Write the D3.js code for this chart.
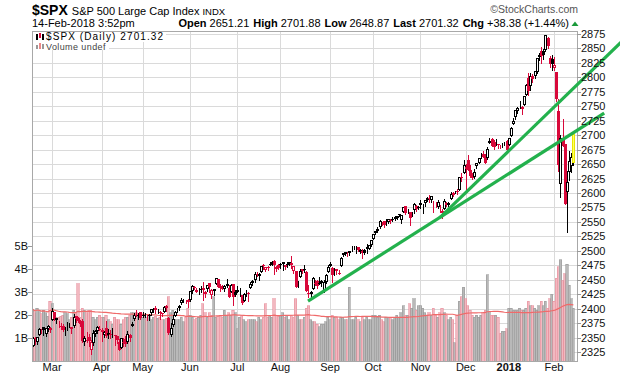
<!DOCTYPE html>
<html lang="en">
<head>
  <meta charset="UTF-8">
  <title>$SPX daily</title>
  <style>
    * {
      padding: 0;
      margin: 0;
    }
    body {
      background: #fff;
    }
    text {
      font-family: "Liberation Sans", Arial, sans-serif;
    }
  </style>
</head>
<body>
  <script src="https://d3js.org/d3.v7.min.js"></script>
  <script>
    // daily bars, 15-Feb-2017 .. 14-Feb-2018 (one line per month)
    const prevClose = 2337.58;

    const opens = [
      2335.58, 2349.64, 2343.01, 2354.91, 2361.11, 2367.50, 2355.73, 2365.23, 2366.08,
      2380.13, 2394.75, 2380.92, 2375.23, 2370.74, 2369.81, 2363.49, 2372.52, 2371.56, 2368.55, 2370.34, 2387.71, 2383.71, 2378.24, 2379.32, 2343.00, 2345.97, 2350.42, 2329.11, 2339.79, 2356.54, 2361.31, 2364.82,
      2362.34, 2354.76, 2366.59, 2353.79, 2356.59, 2357.16, 2353.92, 2352.15, 2341.98, 2332.62, 2342.53, 2346.79, 2342.69, 2354.74, 2370.33, 2381.51, 2388.98, 2389.70, 2393.68,
      2388.50, 2391.05, 2386.50, 2389.79, 2392.37, 2399.94, 2401.58, 2396.79, 2394.84, 2392.44, 2393.98, 2404.55, 2382.95, 2354.69, 2371.37, 2387.21, 2397.04, 2401.41, 2409.54, 2414.50, 2411.67, 2415.63,
      2415.65, 2431.28, 2437.83, 2431.92, 2432.03, 2434.27, 2436.39, 2425.88, 2434.15, 2443.75, 2424.14, 2431.24, 2442.55, 2450.66, 2439.31, 2437.40, 2434.65, 2443.32, 2436.34, 2428.70, 2442.38, 2429.20,
      2431.39, 2430.78, 2423.44, 2413.52, 2424.51, 2427.35, 2435.75, 2444.99, 2449.16, 2459.50, 2455.88, 2463.85, 2475.56, 2467.40, 2472.04, 2477.88, 2479.97, 2482.76, 2469.12, 2475.94,
      2477.10, 2480.38, 2476.03, 2476.88, 2477.14, 2478.35, 2465.35, 2465.38, 2441.04, 2454.96, 2468.66, 2468.63, 2462.95, 2427.64, 2425.50, 2433.75, 2444.88, 2447.91, 2444.72, 2447.35, 2431.94, 2446.06, 2462.65,
      2474.42, 2470.35, 2463.83, 2468.06, 2462.25, 2474.52, 2491.94, 2493.89, 2494.56, 2495.67, 2502.51, 2506.29, 2506.84, 2507.16, 2497.26, 2499.39, 2501.04, 2503.30, 2503.41, 2509.96,
      2521.20, 2530.34, 2533.48, 2540.86, 2547.44, 2551.39, 2549.99, 2550.62, 2552.88, 2555.66, 2555.57, 2557.17, 2562.87, 2553.39, 2567.56, 2578.08, 2568.66, 2566.52, 2560.08, 2570.26, 2577.75, 2575.99,
      2583.21, 2579.46, 2581.93, 2587.47, 2592.11, 2588.71, 2584.00, 2580.18, 2576.53, 2577.75, 2569.45, 2572.95, 2582.94, 2579.49, 2589.17, 2600.31, 2600.42, 2602.66, 2605.94, 2627.82, 2633.93,
      2645.10, 2657.19, 2639.78, 2626.24, 2628.38, 2646.21, 2652.19, 2661.73, 2667.59, 2665.87, 2660.63, 2685.92, 2692.71, 2688.18, 2683.02, 2684.22, 2679.09, 2682.10, 2686.10, 2689.15,
      2683.73, 2697.85, 2719.31, 2731.33, 2742.67, 2751.15, 2745.55, 2752.97, 2770.18, 2798.96, 2784.99, 2802.40, 2802.60, 2809.16, 2835.05, 2845.42, 2846.24, 2847.48, 2867.23, 2832.74, 2832.41,
      2816.45, 2808.92, 2741.06, 2614.78, 2690.95, 2685.01, 2601.78, 2636.75, 2646.27, 2651.21
    ];

    const highs = [
      2351.30, 2351.31, 2351.16, 2366.71, 2365.13, 2368.26, 2367.34, 2371.54, 2367.79,
      2400.98, 2394.75, 2383.89, 2378.80, 2375.12, 2373.09, 2369.08, 2376.86, 2374.42, 2368.55, 2390.01, 2388.10, 2385.71, 2379.55, 2381.93, 2351.81, 2358.92, 2356.22, 2344.90, 2363.78, 2363.36, 2370.42, 2370.35,
      2365.87, 2360.53, 2378.36, 2364.16, 2363.76, 2366.37, 2355.22, 2352.72, 2348.26, 2349.14, 2348.35, 2352.63, 2361.37, 2356.18, 2376.98, 2392.48, 2398.16, 2392.10, 2393.68,
      2394.49, 2392.93, 2389.82, 2391.43, 2399.29, 2401.36, 2403.87, 2399.74, 2395.72, 2392.44, 2404.05, 2405.77, 2384.87, 2375.74, 2389.06, 2395.46, 2400.85, 2405.58, 2418.71, 2416.68, 2415.26, 2415.99,
      2430.06, 2440.23, 2439.55, 2436.21, 2435.28, 2439.27, 2446.20, 2430.38, 2441.49, 2443.75, 2433.95, 2433.15, 2453.82, 2450.66, 2442.23, 2441.62, 2441.40, 2450.42, 2440.15, 2442.97, 2442.73, 2432.71,
      2439.17, 2434.90, 2424.28, 2426.92, 2432.00, 2429.30, 2445.76, 2449.32, 2463.54, 2462.82, 2460.92, 2473.83, 2477.62, 2472.54, 2473.10, 2481.24, 2481.69, 2484.04, 2473.53, 2477.96,
      2478.51, 2480.38, 2476.03, 2480.00, 2480.95, 2490.87, 2474.41, 2465.38, 2448.09, 2468.22, 2468.90, 2474.93, 2465.02, 2440.27, 2430.58, 2454.77, 2448.91, 2450.39, 2453.96, 2449.12, 2449.19, 2460.31, 2475.01,
      2480.38, 2471.97, 2469.64, 2468.62, 2467.11, 2488.95, 2496.77, 2498.37, 2498.43, 2500.23, 2508.32, 2507.84, 2508.85, 2507.16, 2503.47, 2502.54, 2503.51, 2511.75, 2510.81, 2519.44,
      2529.23, 2535.13, 2540.53, 2552.51, 2549.41, 2551.82, 2555.23, 2555.24, 2555.33, 2557.65, 2559.47, 2559.71, 2564.11, 2562.36, 2575.44, 2578.29, 2572.18, 2567.40, 2567.07, 2582.98, 2580.03, 2578.29,
      2588.40, 2581.11, 2588.42, 2593.38, 2597.02, 2595.47, 2586.50, 2583.81, 2587.66, 2579.66, 2572.84, 2590.09, 2583.96, 2584.64, 2601.19, 2600.94, 2604.21, 2606.41, 2627.69, 2634.89, 2657.74,
      2650.62, 2665.19, 2648.72, 2634.41, 2640.99, 2651.65, 2660.33, 2669.72, 2671.88, 2668.09, 2679.63, 2694.97, 2694.44, 2691.01, 2692.64, 2685.35, 2682.74, 2685.64, 2687.66, 2692.12,
      2695.89, 2714.37, 2729.29, 2743.45, 2748.51, 2759.14, 2750.80, 2767.56, 2787.85, 2807.54, 2807.04, 2805.83, 2810.33, 2833.03, 2842.24, 2852.97, 2848.56, 2872.87, 2870.62, 2837.75, 2839.26,
      2835.96, 2808.92, 2763.39, 2701.04, 2727.67, 2685.27, 2638.67, 2672.61, 2668.84, 2701.88
    ];

    const lows = [
      2334.81, 2338.87, 2339.58, 2354.91, 2358.34, 2355.09, 2352.87, 2361.87, 2358.96,
      2380.13, 2380.17, 2375.39, 2367.98, 2365.51, 2361.01, 2354.54, 2363.04, 2368.52, 2358.18, 2368.94, 2377.18, 2377.64, 2369.66, 2341.90, 2336.45, 2342.13, 2335.74, 2322.25, 2337.63, 2352.94, 2358.58, 2362.60,
      2344.73, 2350.72, 2350.52, 2348.90, 2349.76, 2351.50, 2337.25, 2341.18, 2328.95, 2332.51, 2334.54, 2335.05, 2340.91, 2344.51, 2369.19, 2381.15, 2386.78, 2382.68, 2382.36,
      2384.83, 2385.82, 2379.75, 2380.35, 2389.38, 2393.92, 2392.44, 2392.79, 2381.74, 2387.19, 2393.94, 2396.05, 2356.21, 2352.72, 2370.43, 2386.92, 2393.88, 2397.99, 2408.01, 2412.20, 2409.43, 2403.59,
      2413.54, 2427.71, 2434.32, 2428.12, 2424.75, 2427.94, 2415.70, 2419.97, 2431.28, 2428.34, 2418.53, 2422.88, 2441.79, 2436.60, 2430.74, 2433.27, 2431.11, 2437.03, 2419.38, 2428.02, 2405.70, 2421.65,
      2428.69, 2422.05, 2407.70, 2413.52, 2422.27, 2412.79, 2435.75, 2441.69, 2446.69, 2457.16, 2450.34, 2463.85, 2468.43, 2465.06, 2466.32, 2474.91, 2474.94, 2459.93, 2464.66, 2468.53,
      2471.14, 2466.48, 2468.85, 2472.08, 2475.88, 2470.32, 2462.08, 2437.75, 2437.85, 2454.96, 2461.61, 2463.86, 2430.01, 2420.69, 2417.35, 2433.67, 2441.42, 2436.19, 2442.22, 2439.03, 2428.20, 2443.77, 2462.65,
      2473.85, 2446.55, 2458.20, 2460.29, 2459.40, 2474.52, 2490.37, 2492.14, 2491.35, 2493.16, 2499.92, 2503.19, 2496.67, 2499.00, 2496.54, 2488.03, 2495.12, 2495.91, 2502.93, 2507.99,
      2520.40, 2528.85, 2531.80, 2540.02, 2543.79, 2541.60, 2544.86, 2547.95, 2548.31, 2552.09, 2553.86, 2554.69, 2559.67, 2547.92, 2567.56, 2564.33, 2565.58, 2544.00, 2559.80, 2565.94, 2568.25, 2572.15,
      2574.92, 2566.17, 2576.77, 2585.66, 2584.35, 2585.02, 2566.33, 2575.57, 2574.48, 2566.56, 2557.45, 2572.95, 2577.62, 2578.24, 2589.17, 2595.23, 2600.42, 2598.87, 2605.44, 2620.32, 2633.93,
      2605.52, 2639.03, 2627.73, 2624.75, 2626.53, 2644.10, 2651.47, 2659.78, 2662.85, 2652.01, 2659.14, 2685.92, 2680.74, 2676.11, 2682.40, 2678.13, 2677.96, 2678.91, 2682.69, 2673.61,
      2682.36, 2697.77, 2719.07, 2727.92, 2737.60, 2747.86, 2736.06, 2752.78, 2769.64, 2768.64, 2778.38, 2792.56, 2798.08, 2808.12, 2830.59, 2824.81, 2830.94, 2846.18, 2851.48, 2818.27, 2813.04,
      2812.70, 2759.97, 2638.17, 2593.07, 2681.33, 2580.56, 2532.69, 2622.45, 2637.08, 2648.87
    ];

    const closes = [
      2349.25, 2347.22, 2351.16, 2365.38, 2362.82, 2363.81, 2367.34, 2369.75, 2363.64,
      2395.96, 2381.92, 2383.12, 2375.31, 2368.39, 2362.98, 2364.87, 2372.60, 2373.47, 2365.45, 2385.26, 2381.38, 2378.25, 2373.47, 2344.02, 2348.45, 2345.96, 2343.98, 2341.59, 2358.57, 2361.13, 2368.06, 2362.72,
      2358.84, 2360.16, 2352.95, 2357.49, 2355.54, 2357.16, 2353.78, 2344.93, 2328.95, 2349.01, 2342.19, 2338.17, 2355.84, 2348.69, 2374.15, 2388.61, 2387.45, 2388.77, 2384.20,
      2388.33, 2391.17, 2388.13, 2389.52, 2399.29, 2399.38, 2396.92, 2399.63, 2394.44, 2390.90, 2402.32, 2400.67, 2357.03, 2365.72, 2381.73, 2394.02, 2398.42, 2404.39, 2415.07, 2415.82, 2412.91, 2411.80,
      2430.06, 2439.07, 2436.10, 2429.33, 2433.14, 2433.79, 2431.77, 2429.39, 2440.35, 2437.92, 2432.46, 2433.15, 2453.46, 2437.03, 2435.61, 2434.50, 2438.30, 2439.07, 2419.38, 2440.69, 2419.70, 2423.41,
      2429.01, 2432.54, 2409.75, 2425.18, 2427.43, 2425.53, 2443.25, 2447.83, 2459.27, 2459.14, 2460.61, 2473.83, 2473.45, 2472.54, 2469.91, 2477.13, 2477.83, 2475.42, 2472.10, 2470.30,
      2476.35, 2477.57, 2472.16, 2476.83, 2480.91, 2474.92, 2474.02, 2438.21, 2441.32, 2465.84, 2464.61, 2468.11, 2430.01, 2425.55, 2428.37, 2452.51, 2444.04, 2438.97, 2443.05, 2444.24, 2446.30, 2457.59, 2471.65,
      2476.55, 2457.85, 2465.54, 2465.10, 2461.43, 2488.11, 2496.48, 2498.37, 2495.62, 2500.23, 2503.87, 2506.65, 2508.24, 2500.60, 2502.22, 2496.66, 2496.84, 2507.04, 2510.06, 2519.36,
      2529.12, 2534.58, 2537.74, 2552.07, 2549.33, 2544.73, 2550.64, 2555.24, 2550.93, 2553.17, 2557.64, 2559.36, 2561.26, 2562.10, 2575.21, 2564.98, 2569.13, 2557.15, 2560.40, 2581.07, 2572.83, 2575.26,
      2579.36, 2579.85, 2587.84, 2591.13, 2590.64, 2594.38, 2584.62, 2582.30, 2584.84, 2578.87, 2564.62, 2585.64, 2578.85, 2582.14, 2599.03, 2597.08, 2602.42, 2601.42, 2627.04, 2626.07, 2647.58,
      2642.22, 2639.44, 2629.57, 2629.27, 2636.98, 2651.50, 2659.99, 2664.11, 2662.85, 2652.01, 2675.81, 2690.16, 2681.47, 2679.25, 2684.57, 2683.34, 2680.50, 2682.62, 2687.54, 2673.61,
      2695.81, 2713.06, 2723.99, 2743.15, 2747.71, 2751.29, 2748.23, 2767.56, 2786.24, 2776.42, 2802.56, 2798.03, 2810.30, 2832.97, 2839.13, 2837.54, 2839.25, 2872.87, 2853.53, 2822.43, 2823.81,
      2821.98, 2762.13, 2648.94, 2695.14, 2681.66, 2581.00, 2619.55, 2656.00, 2662.94, 2701.32
    ];

    // volume, billions
    const volumes = [
      2.25, 2.10, 2.30, 2.15, 2.05, 2.20, 2.10, 1.95, 2.60,
      2.50, 2.10, 1.90, 1.90, 1.95, 2.00, 2.10, 2.05, 1.80, 1.90, 2.20, 2.10, 3.35, 1.90, 2.30, 2.20, 2.10, 2.20, 2.20, 1.90, 1.80, 1.90, 2.00,
      1.90, 1.90, 2.00, 1.80, 1.70, 1.60, 1.90, 1.80, 1.80, 1.60, 1.80, 1.90, 1.90, 2.00, 2.10, 2.10, 2.10, 1.95, 2.00,
      1.90, 2.00, 1.90, 2.00, 1.80, 1.90, 1.95, 1.85, 1.90, 1.80, 1.80, 1.85, 2.80, 2.10, 2.20, 1.80, 1.80, 1.80, 1.90, 1.70, 1.90, 2.30,
      2.00, 1.90, 1.80, 1.85, 1.90, 2.00, 2.50, 2.10, 1.90, 2.10, 2.00, 2.80, 1.90, 1.95, 2.00, 1.90, 2.20, 2.00, 2.10, 2.00, 2.20, 2.10,
      1.40, 1.90, 2.00, 1.80, 1.70, 1.80, 1.80, 1.80, 1.80, 1.70, 1.90, 1.80, 1.90, 2.50, 1.90, 2.00, 1.90, 2.70, 2.00, 1.95,
      2.00, 2.10, 1.90, 2.00, 1.80, 2.00, 1.90, 2.70, 2.00, 1.80, 1.80, 1.90, 2.30, 2.40, 1.80, 1.70, 1.70, 1.60, 1.50, 1.60, 1.60, 1.70, 1.90,
      1.80, 2.00, 1.90, 1.90, 1.80, 1.90, 1.90, 1.80, 1.80, 3.20, 1.80, 1.80, 1.90, 1.80, 1.70, 1.90, 1.80, 1.90, 1.80, 1.80,
      2.00, 2.00, 1.90, 2.00, 1.80, 1.70, 1.90, 1.90, 1.90, 1.80, 1.90, 2.00, 1.90, 2.10, 2.40, 2.00, 2.00, 2.50, 2.30, 2.70, 2.20, 2.40,
      2.40, 2.30, 2.10, 2.00, 2.10, 2.00, 2.30, 2.00, 1.90, 2.10, 2.30, 2.10, 2.00, 1.80, 1.90, 1.80, 0.80, 2.00, 2.60, 2.80, 3.20,
      2.70, 2.40, 2.20, 2.00, 1.90, 2.00, 1.90, 2.00, 2.10, 2.20, 3.75, 2.10, 2.00, 2.00, 2.00, 1.90, 1.20, 1.30, 1.30, 1.40,
      2.30, 2.30, 2.20, 2.20, 2.20, 2.30, 2.20, 2.20, 2.30, 2.60, 2.40, 2.40, 2.30, 2.20, 2.40, 2.60, 2.40, 2.60, 2.30, 2.70, 2.90,
      2.60, 3.60, 4.10, 4.40, 3.50, 3.80, 4.20, 3.30, 2.70, 2.30
    ];

    // first trading day of each month (bar index) and its label
    const monthLabels = ['Mar', 'Apr', 'May', 'Jun', 'Jul', 'Aug', 'Sep', 'Oct', 'Nov', 'Dec', '2018', 'Feb'];
    const monthStarts = [9, 32, 51, 73, 95, 115, 138, 158, 180, 201, 221, 242];

    const priceTicks = d3.range(2325, 2876, 25);
    const volumeTicks = [1, 2, 3, 4, 5];

    // trendlines drawn on the chart: [bar index, price]
    const lowerTrend = [[127.8, 2413], [265.3, 2738]];
    const upperTrend = [[188.9, 2557], [273.7, 2863]];

    const maPeriod = 50;

    const width = 620;
    const height = 376;
    const plot = { left: 32, right: 577, top: 31, bottom: 361 };
    const red = '#d8083a';

    const svg = d3.select('body')
      .append('svg')
      .attr('width', width)
      .attr('height', height)
      .style('display', 'block');

    const x = d3.scaleLinear().domain([0, 251]).range([32.7, 573.4]);
    const y = d3.scaleLinear().domain([2325, 2875]).range([352, 34]);
    const yVol = d3.scaleLinear().domain([0, 5]).range([361, 246]);
    const step = x(1) - x(0);

    const bars = closes.map((c, i) => ({
      i,
      o: opens[i],
      h: highs[i],
      l: lows[i],
      c,
      v: volumes[i],
      up: c >= (i === 0 ? prevClose : closes[i - 1])
    }));

    svg.append('defs').append('clipPath').attr('id', 'clip')
      .append('rect')
      .attr('x', plot.left).attr('y', plot.top)
      .attr('width', plot.right - plot.left).attr('height', plot.bottom - plot.top);

    // grid
    const grid = svg.append('g').attr('stroke', '#dadada').attr('shape-rendering', 'crispEdges');
    grid.selectAll('.hg').data(priceTicks).join('line')
      .attr('x1', plot.left).attr('x2', plot.right)
      .attr('y1', d => Math.round(y(d)) + 0.5).attr('y2', d => Math.round(y(d)) + 0.5);
    grid.selectAll('.vg').data(monthStarts).join('line')
      .attr('x1', d => Math.round(x(d)) + 0.5).attr('x2', d => Math.round(x(d)) + 0.5)
      .attr('y1', plot.top).attr('y2', plot.bottom);

    const body = svg.append('g').attr('clip-path', 'url(#clip)');

    // volume bars
    body.append('g').attr('shape-rendering', 'crispEdges')
      .selectAll('rect').data(bars).join('rect')
      .attr('x', d => x(d.i) - step / 2)
      .attr('width', step)
      .attr('y', d => yVol(d.v))
      .attr('height', d => yVol(0) - yVol(d.v))
      .attr('fill', d => d.up ? '#b9b9b9' : '#f2b8c0')
      .attr('stroke', d => d.up ? '#9a9a9a' : '#e8909c')
      .attr('stroke-width', 0.6);

    // volume moving average
    const ma = bars.map(d => {
      const win = volumes.slice(Math.max(0, d.i - maPeriod + 1), d.i + 1);
      return { i: d.i, v: d3.mean(win) };
    });
    body.append('path')
      .datum(ma)
      .attr('fill', 'none')
      .attr('stroke', '#f06a6a')
      .attr('stroke-width', 1.2)
      .attr('d', d3.line().x(d => x(d.i)).y(d => yVol(d.v)));

    // candles
    const candles = body.append('g').attr('shape-rendering', 'crispEdges');
    bars.forEach((d, k) => {
      const cx = Math.round(x(d.i));
      const col = d.up ? '#000' : red;
      const last = k === bars.length - 1;
      candles.append('line')
        .attr('x1', cx + 0.5).attr('x2', cx + 0.5)
        .attr('y1', Math.round(y(d.h))).attr('y2', Math.round(y(d.l)) + 1)
        .attr('stroke', col);
      const top = Math.round(y(Math.max(d.o, d.c)));
      const bot = Math.round(y(Math.min(d.o, d.c)));
      if (d.c < d.o) {
        candles.append('rect')
          .attr('x', cx - 1).attr('width', 3)
          .attr('y', top).attr('height', Math.max(1, bot - top))
          .attr('fill', col);
      } else {
        candles.append('rect')
          .attr('x', cx - 0.5).attr('width', 2)
          .attr('y', top + 0.5).attr('height', Math.max(0, bot - top - 1))
          .attr('fill', last ? '#ffff66' : '#fff')
          .attr('stroke', last ? '#e8e800' : col);
      }
    });

    // border
    svg.append('rect')
      .attr('x', plot.left + 0.5).attr('y', plot.top + 0.5)
      .attr('width', plot.right - plot.left).attr('height', plot.bottom - plot.top)
      .attr('fill', 'none').attr('stroke', '#a8a8a8')
      .attr('shape-rendering', 'crispEdges');

    // trendlines
    const tl = d3.line().x(d => x(d[0])).y(d => y(d[1]));
    [lowerTrend, upperTrend].forEach(t => {
      svg.append('path')
        .attr('d', tl(t))
        .attr('fill', 'none')
        .attr('stroke', '#23b14d')
        .attr('stroke-width', 3.2);
    });

    // right price axis
    const yAxis = svg.append('g');
    yAxis.selectAll('line').data(priceTicks).join('line')
      .attr('x1', plot.right).attr('x2', plot.right + 4)
      .attr('y1', d => Math.round(y(d)) + 0.5).attr('y2', d => Math.round(y(d)) + 0.5)
      .attr('stroke', '#999').attr('shape-rendering', 'crispEdges');
    yAxis.selectAll('text').data(priceTicks).join('text')
      .attr('x', plot.right + 4)
      .attr('y', d => y(d) + 4)
      .attr('font-size', 11)
      .attr('fill', '#111')
      .text(d => d);

    // left volume axis
    const vAxis = svg.append('g');
    vAxis.selectAll('line').data(volumeTicks).join('line')
      .attr('x1', plot.left - 4).attr('x2', plot.left)
      .attr('y1', d => Math.round(yVol(d)) + 0.5).attr('y2', d => Math.round(yVol(d)) + 0.5)
      .attr('stroke', '#999').attr('shape-rendering', 'crispEdges');
    vAxis.selectAll('text').data(volumeTicks).join('text')
      .attr('x', plot.left - 4)
      .attr('y', d => yVol(d) + 4)
      .attr('text-anchor', 'end')
      .attr('font-size', 11)
      .attr('fill', '#111')
      .text(d => d + 'B');

    // month labels
    svg.append('g').selectAll('text').data(monthStarts).join('text')
      .attr('x', d => x(d))
      .attr('y', 371)
      .attr('text-anchor', 'middle')
      .attr('font-size', 11)
      .attr('font-weight', (d, i) => monthLabels[i] === '2018' ? 'bold' : 'normal')
      .attr('fill', '#111')
      .text((d, i) => monthLabels[i]);

    // legend inside the plot
    svg.append('rect').attr('x', 33).attr('y', 32).attr('width', 133).attr('height', 10).attr('fill', '#fff');
    svg.append('rect').attr('x', 33).attr('y', 42).attr('width', 76).attr('height', 8).attr('fill', '#fff');
    const icon = svg.append('g').attr('shape-rendering', 'crispEdges');
    icon.append('rect').attr('x', 36).attr('y', 34).attr('width', 2).attr('height', 6).attr('fill', '#000');
    icon.append('rect').attr('x', 39).attr('y', 33).attr('width', 2).attr('height', 5).attr('fill', red);
    icon.append('rect').attr('x', 42).attr('y', 34).attr('width', 2).attr('height', 6).attr('fill', '#000');
    svg.append('text')
      .attr('x', 46).attr('y', 39.5)
      .attr('font-size', 10)
      .attr('letter-spacing', 1.1)
      .attr('fill', '#000')
      .text('$SPX (Daily) 2701.32');
    icon.append('rect').attr('x', 36).attr('y', 45).attr('width', 2).attr('height', 4).attr('fill', '#999');
    icon.append('rect').attr('x', 39).attr('y', 43).attr('width', 2).attr('height', 6).attr('fill', '#e88');
    icon.append('rect').attr('x', 42).attr('y', 44).attr('width', 2).attr('height', 5).attr('fill', '#999');
    svg.append('text')
      .attr('x', 46).attr('y', 49.8)
      .attr('font-size', 9)
      .attr('letter-spacing', 0.4)
      .attr('fill', '#444')
      .text('Volume undef');

    // header
    const h1 = svg.append('text').attr('x', 32).attr('y', 15).attr('fill', '#000');
    h1.append('tspan').attr('font-size', 14).attr('font-weight', 'bold').text('$SPX');
    h1.append('tspan').attr('font-size', 11).attr('dx', 4).text('S&P 500 Large Cap Index');
    h1.append('tspan').attr('font-size', 9.5).attr('dx', 3).text('INDX');

    svg.append('text')
      .attr('x', 578).attr('y', 13)
      .attr('text-anchor', 'end')
      .attr('font-size', 10.5)
      .attr('fill', '#555')
      .text('\u00a9StockCharts.com');

    svg.append('text')
      .attr('x', 32).attr('y', 27)
      .attr('font-size', 11)
      .attr('fill', '#000')
      .text('14-Feb-2018 3:52pm');

    const quote = [['Open', '2651.21'], ['High', '2701.88'], ['Low', '2648.87'], ['Last', '2701.32'], ['Chg', '+38.38 (+1.44%)']];
    const h2 = svg.append('text')
      .attr('x', 569).attr('y', 27)
      .attr('text-anchor', 'end')
      .attr('font-size', 11)
      .attr('fill', '#000');
    quote.forEach((q, i) => {
      h2.append('tspan').attr('font-weight', 'bold').attr('dx', i ? 4 : 0).text(q[0]);
      h2.append('tspan').attr('dx', 3).text(q[1]);
    });
    svg.append('path')
      .attr('d', 'M571.5,26 L575,21.5 L578.5,26 Z')
      .attr('fill', '#1a9a3a');
  </script>
</body>
</html>
